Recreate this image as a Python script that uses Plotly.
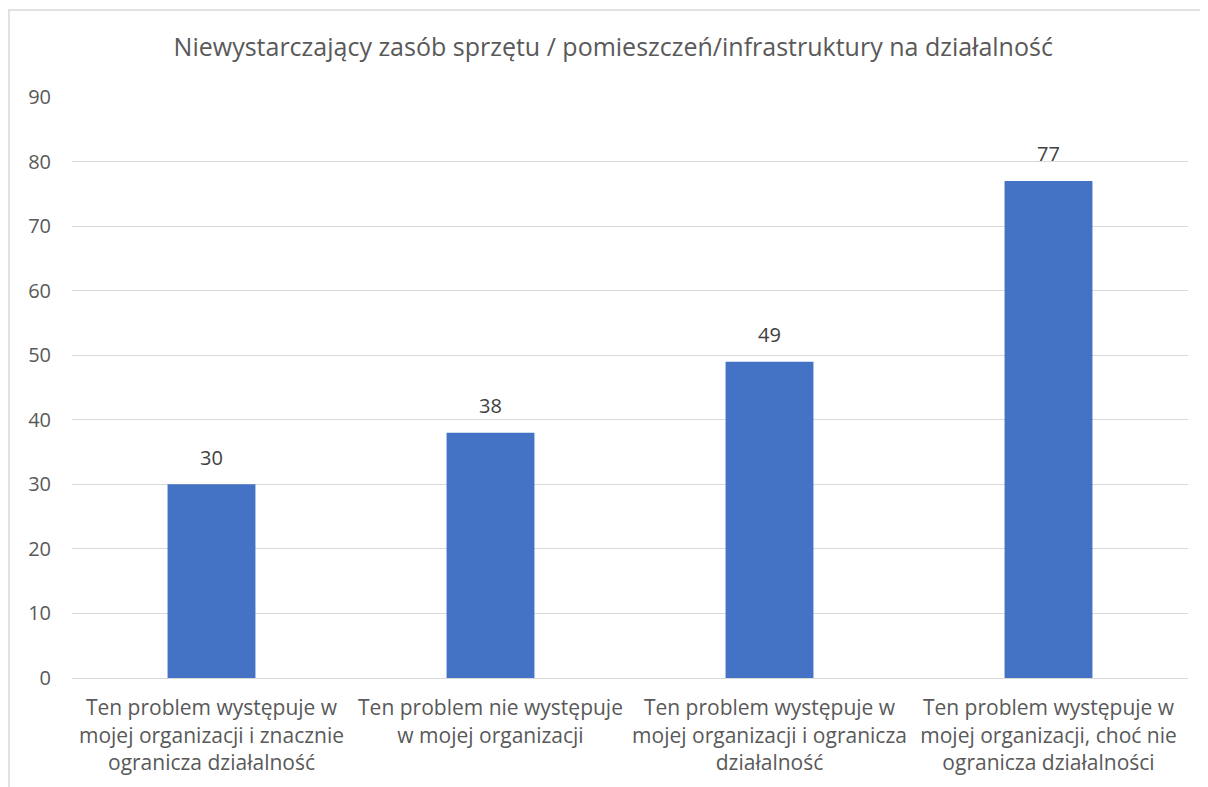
import plotly.graph_objects as go

categories = [
    "Ten problem występuje w<br>mojej organizacji i znacznie<br>ogranicza działalność",
    "Ten problem nie występuje<br>w mojej organizacji",
    "Ten problem występuje w<br>mojej organizacji i ogranicza<br>działalność",
    "Ten problem występuje w<br>mojej organizacji, choć nie<br>ogranicza działalności",
]
values = [30, 38, 49, 77]
y_ticks = [0, 10, 20, 30, 40, 50, 60, 70, 80, 90]

title = "Niewystarczający zasób sprzętu / pomieszczeń/infrastruktury na działalność"

FONT = "'Open Sans', Lato, sans-serif"
GREY = "#595959"

fig = go.Figure()
fig.add_trace(go.Bar(
    x=categories,
    y=values,
    marker=dict(color="#4472C4", line=dict(width=0)),
    hoverinfo="x+y",
))
# data labels, sitting a bit above each bar
fig.add_trace(go.Scatter(
    x=categories,
    y=values,
    mode="markers+text",
    marker=dict(size=22, opacity=0),
    text=[str(v) for v in values],
    textposition="top center",
    textfont=dict(size=20, color="#404040", family=FONT),
    cliponaxis=False,
    hoverinfo="skip",
))

fig.update_layout(
    width=1208, height=787,
    margin=dict(l=64, r=28, t=89, b=117),
    paper_bgcolor="white", plot_bgcolor="white",
    bargap=0.685,
    showlegend=False,
    title=dict(text=title, x=0.485, xref="paper", xanchor="center",
               y=1 - 39 / 787, yref="container", yanchor="middle",
               font=dict(size=25, color=GREY, family=FONT)),
    font=dict(family=FONT, color=GREY),
    shapes=[dict(type="rect", xref="paper", yref="paper",
                 x0=-0.0565, x1=1.05, y0=-0.35, y1=1.1497,
                 line=dict(color="#D9D9D9", width=1.5), layer="below")],
)

fig.update_yaxes(range=[0, 90], tickvals=y_ticks, showgrid=True, gridcolor="#D9D9D9",
                 gridwidth=1, zeroline=False, showline=False,
                 ticklabelstandoff=20, tickfont=dict(size=20, color=GREY))
fig.update_xaxes(showline=True, linecolor="#D9D9D9", linewidth=1, ticks="",
                 ticklabelstandoff=11,
                 tickfont=dict(size=21, color=GREY))

fig.write_html("out.html")
